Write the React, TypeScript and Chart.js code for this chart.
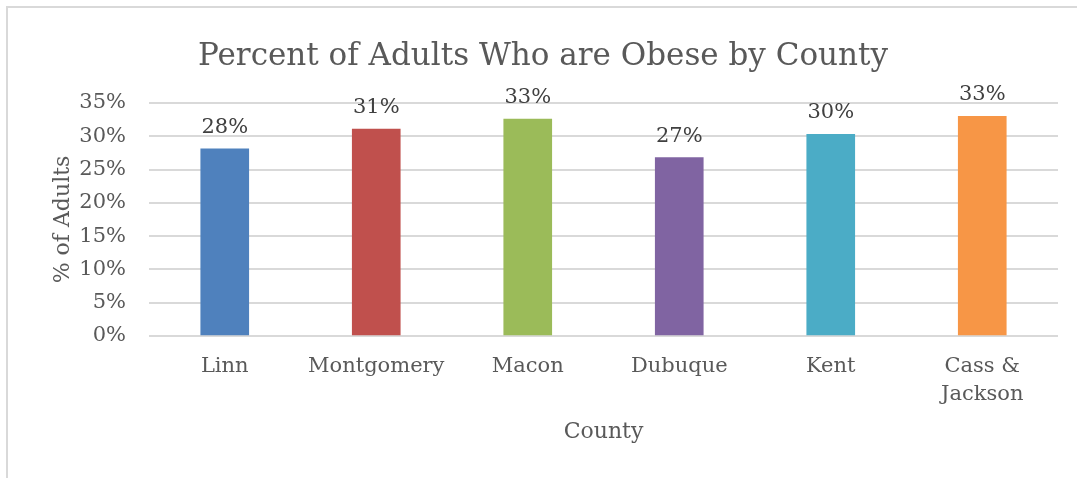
import React, { useEffect, useRef } from "react";
import { Chart, registerables } from "chart.js";

Chart.register(...registerables);

const chartTitle = "Percent of Adults Who are Obese by County";
const categories: (string | string[])[] = ["Linn", "Montgomery", "Macon", "Dubuque", "Kent", ["Cass &", "Jackson"]];
const obesePercent = [28.1, 31.1, 32.6, 26.8, 30.3, 33.0];
const barColors = ["#4f81bd", "#c0504d", "#9bbb59", "#8064a2", "#4bacc6", "#f79646"];
const yTickValues = [0, 5, 10, 15, 20, 25, 30, 35];
const yAxisTitle = "% of Adults";
const xAxisTitle = "County";

const FONT = '"DejaVu Serif", serif';

const labelPlugin = {
  id: "labelsAndTitle",
  afterDatasetsDraw(chart: any) {
    const ctx = chart.ctx;
    const meta = chart.getDatasetMeta(0);
    ctx.save();
    ctx.font = `21px ${FONT}`;
    ctx.fillStyle = "#404040";
    ctx.textAlign = "center";
    ctx.textBaseline = "alphabetic";
    meta.data.forEach((bar: any, i: number) => {
      ctx.fillText(Math.round(obesePercent[i]) + "%", bar.x, bar.y - 16);
    });
    ctx.font = `31px ${FONT}`;
    ctx.fillStyle = "#595959";
    ctx.fillText(chartTitle, 543, 65);
    ctx.restore();
  },
};

export default function App() {
  const ref = useRef<HTMLCanvasElement>(null);
  useEffect(() => {
    if (!ref.current) return;
    const chart = new Chart(ref.current, {
      type: "bar",
      data: {
        labels: categories,
        datasets: [
          {
            data: obesePercent,
            backgroundColor: barColors,
            borderWidth: 0,
            barThickness: 48,
          },
        ],
      },
      options: {
        animation: false,
        responsive: false,
        layout: { padding: { left: 40, right: 19, top: 103, bottom: 30 } },
        plugins: {
          legend: { display: false },
          title: { display: false },
          tooltip: { enabled: false },
        },
        scales: {
          x: {
            grid: { display: false, drawTicks: false },
            border: { display: false },
            ticks: {
              color: "#595959",
              font: { family: FONT, size: 21, lineHeight: 1.33 },
              padding: 17,
              maxRotation: 0,
              autoSkip: false,
            },
            title: {
              display: true,
              text: xAxisTitle,
              color: "#595959",
              font: { family: FONT, size: 22, lineHeight: 1.2 },
              padding: { top: 0, bottom: 3 },
            },
            afterFit(scale: any) {
              scale.height = 112;
            },
          },
          y: {
            min: 0,
            max: 35,
            grid: { color: "#d9d9d9", lineWidth: 2, drawTicks: false },
            border: { display: false },
            afterBuildTicks(scale: any) {
              scale.ticks = yTickValues.map((v) => ({ value: v }));
            },
            ticks: {
              color: "#595959",
              font: { family: FONT, size: 21 },
              padding: 23,
              callback: (v: any) => v + "%",
            },
            title: {
              display: true,
              text: yAxisTitle,
              color: "#595959",
              font: { family: FONT, size: 22, lineHeight: 1.2 },
              padding: { top: 10, bottom: 0 },
            },
            afterFit(scale: any) {
              scale.width = 109;
            },
          },
        },
      },
      plugins: [labelPlugin],
    });
    return () => chart.destroy();
  }, []);

  return (
    <div style={{ position: "fixed", left: 0, top: 0, width: 1077, height: 478, background: "#fff", overflow: "hidden" }}>
      <div
        style={{
          position: "absolute",
          left: 6,
          top: 6,
          width: 1200,
          height: 600,
          borderLeft: "2px solid #d9d9d9",
          borderTop: "2px solid #d9d9d9",
        }}
      />
      <canvas ref={ref} width={1077} height={478} style={{ position: "absolute", left: 0, top: 0, width: 1077, height: 478 }} />
    </div>
  );
}
